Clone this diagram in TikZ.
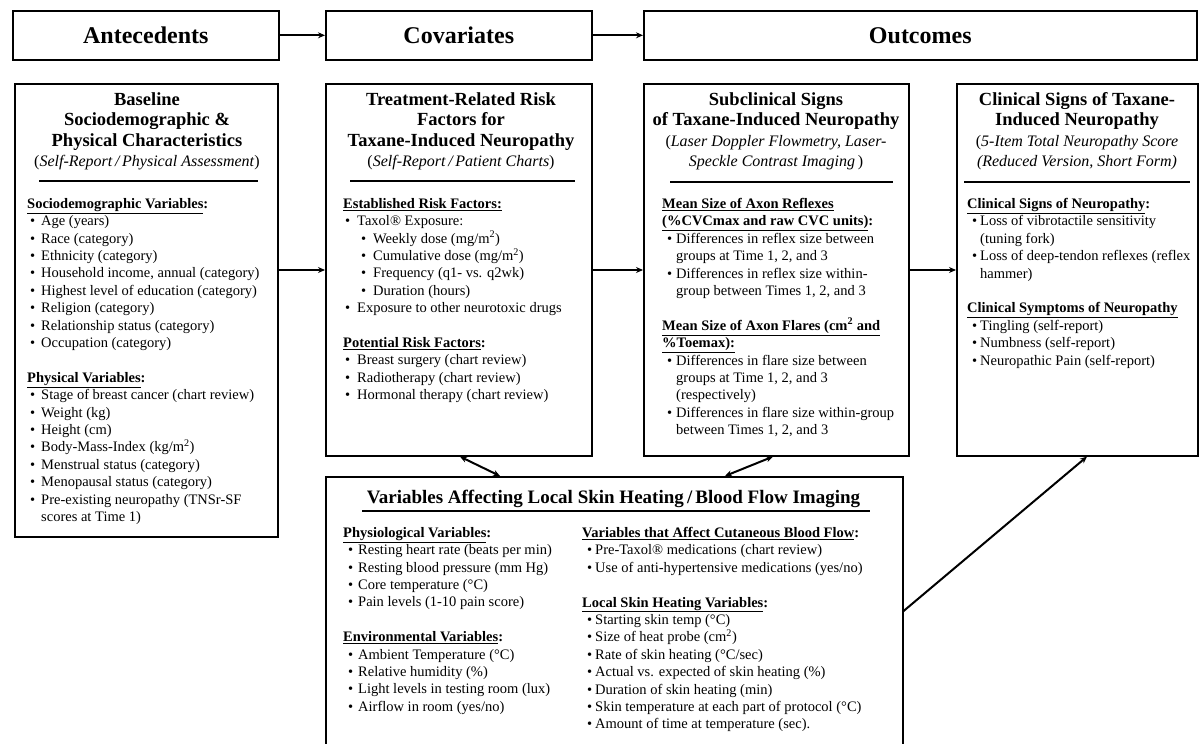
\documentclass[tikz,border=0pt]{standalone}
\usepackage{fontspec}
\setmainfont{Liberation Serif}
\usetikzlibrary{arrows.meta,calc}
\newlength\Lbulind
\newlength\Lbulgap
\newcommand{\Lbi}{\hspace*{\Lbulind}\makebox[\Lbulgap][l]{\textbullet}}
\newcommand{\Lbii}{\hspace*{\dimexpr\Lbulind+16pt\relax}\makebox[\Lbulgap][l]{\textbullet}}
\newcommand{\Lbc}{\hspace*{\dimexpr\Lbulind+\Lbulgap\relax}}
\newcommand{\Lhd}[1]{\textbf{\underline{#1}}}
\newcommand{\Lsq}{\textsuperscript{2}}
\tikzset{
  hbox/.style={draw, line width=1.6pt, anchor=north west, inner sep=0pt, font=\fontsize{24}{28}\selectfont\bfseries},
  cbox/.style={draw, line width=1.6pt, anchor=north west, inner sep=0pt},
  ttl/.style={align=center, anchor=north, inner sep=0pt, font=\fontsize{18.5}{20.5}\selectfont\bfseries},
  subt/.style={align=center, anchor=north, inner sep=0pt, font=\fontsize{16}{20}\selectfont},
  lst/.style 2 args={align=left, anchor=north west, inner sep=0pt, font=\fontsize{14.5}{17.4}\selectfont,
     execute at begin node={\setlength\Lbulind{#1}\setlength\Lbulgap{#2}}},
  rl/.style={line width=1.4pt},
  arr/.style={line width=2pt, -{Stealth[length=7pt,width=6pt]}},
  darr/.style={line width=2pt, {Stealth[length=7pt,width=6pt]}-{Stealth[length=7pt,width=6pt]}},
}
\begin{document}
\begin{tikzpicture}[x=1pt,y=-1pt]
\useasboundingbox (0,0) rectangle (1203,744);
\fill[white] (0,0) rectangle (1203,744);
\clip (0,0) rectangle (1203,744);

% header boxes
\node[hbox, minimum width=266pt, minimum height=49pt] (hA) at (12,10) {Antecedents};
\node[hbox, minimum width=266pt, minimum height=49pt] (hC) at (325,10) {Covariates};
\node[hbox, minimum width=553pt, minimum height=49pt] (hO) at (643,10) {Outcomes};

% content boxes
\node[cbox, minimum width=263pt, minimum height=453pt] (bB) at (14,83) {};
\node[cbox, minimum width=266pt, minimum height=372pt] (bT) at (325,83) {};
\node[cbox, minimum width=265pt, minimum height=372pt] (bS) at (643,83) {};
\node[cbox, minimum width=241pt, minimum height=372pt] (bK) at (956,83) {};
\node[cbox, minimum width=577pt, minimum height=320pt] (bV) at (325,476) {};

% box 1
\node[ttl] (tB) at (147,92) {Baseline\\Sociodemographic \&\\Physical Characteristics};
\node[subt] (sB) at (147,155) {(\textit{Self-Report\,/\,Physical Assessment})};
\draw[rl] (39,181) -- (258,181);
\node[lst={3pt}{11pt}] (lB) at (27,198) {%
\Lhd{Sociodemographic Variables}\textbf{:}\\
\Lbi Age (years)\\
\Lbi Race (category)\\
\Lbi Ethnicity (category)\\
\Lbi Household income, annual (category)\\
\Lbi Highest level of education (category)\\
\Lbi Religion (category)\\
\Lbi Relationship status (category)\\
\Lbi Occupation (category)\\[17.4pt]
\Lhd{Physical Variables}\textbf{:}\\
\Lbi Stage of breast cancer (chart review)\\
\Lbi Weight (kg)\\
\Lbi Height (cm)\\
\Lbi Body-Mass-Index (kg/m\Lsq)\\
\Lbi Menstrual status (category)\\
\Lbi Menopausal status (category)\\
\Lbi Pre-existing neuropathy (TNSr-SF\\
\Lbc scores at Time 1)};

% box 2
\node[ttl] (tT) at (461,92) {Treatment-Related Risk\\Factors for\\Taxane-Induced Neuropathy};
\node[subt] (sT) at (461,155) {(\textit{Self-Report\,/\,Patient Charts})};
\draw[rl] (350,181) -- (575,181);
\node[lst={2pt}{12pt}] (lT) at (343,198) {%
\Lhd{Established Risk Factors:}\\
\Lbi Taxol® Exposure:\\
\Lbii Weekly dose (mg/m\Lsq)\\
\Lbii Cumulative dose (mg/m\Lsq)\\
\Lbii Frequency (q1- vs. q2wk)\\
\Lbii Duration (hours)\\
\Lbi Exposure to other neurotoxic drugs\\[17.4pt]
\Lhd{Potential Risk Factors}\textbf{:}\\
\Lbi Breast surgery (chart review)\\
\Lbi Radiotherapy (chart review)\\
\Lbi Hormonal therapy (chart review)};

% box 3
\node[ttl] (tS) at (776,92) {Subclinical Signs\\of Taxane-Induced Neuropathy};
\node[subt] (sS) at (776,135) {(\textit{Laser Doppler Flowmetry, Laser-}\\\textit{Speckle Contrast Imaging\,})};
\draw[rl] (670,182) -- (893,182);
\node[lst={5pt}{9pt}] (lS) at (662,198) {%
\Lhd{Mean Size of Axon Reflexes}\\
\Lhd{(\%CVCmax and raw CVC units)}\textbf{:}\\
\Lbi Differences in reflex size between\\
\Lbc groups at Time 1, 2, and 3\\
\Lbi Differences in reflex size within-\\
\Lbc group between Times 1, 2, and 3\\[17.4pt]
\Lhd{Mean Size of Axon Flares (cm\Lsq{} and}\\
\Lhd{\%Toemax):}\\
\Lbi Differences in flare size between\\
\Lbc groups at Time 1, 2, and 3\\
\Lbc (respectively)\\
\Lbi Differences in flare size within-group\\
\Lbc between Times 1, 2, and 3};

% box 4
\node[ttl] (tK) at (1077,92) {Clinical Signs of Taxane-\\Induced Neuropathy};
\node[subt] (sK) at (1077,135) {(\textit{5-Item Total Neuropathy Score}\\\textit{(Reduced Version, Short Form)}};
\draw[rl] (964,182) -- (1190,182);
\node[lst={5pt}{8pt}] (lK) at (967,198) {%
\Lhd{Clinical Signs of Neuropathy}\textbf{:}\\
\Lbi Loss of vibrotactile sensitivity\\
\Lbc (tuning fork)\\
\Lbi Loss of deep-tendon reflexes (reflex\\
\Lbc hammer)\\[17.4pt]
\Lhd{Clinical Symptoms of Neuropathy}\\
\Lbi Tingling (self-report)\\
\Lbi Numbness (self-report)\\
\Lbi Neuropathic Pain (self-report)};

% bottom box
\node[ttl, font=\fontsize{19}{22}\selectfont\bfseries] (tV) at (613.5,490) {Variables Affecting Local Skin Heating\,/\,Blood Flow Imaging};
\draw[rl] (362,511) -- (870,511);
\node[lst={5pt}{10pt}] (lV1) at (343,527) {%
\Lhd{Physiological Variables}\textbf{:}\\
\Lbi Resting heart rate (beats per min)\\
\Lbi Resting blood pressure (mm Hg)\\
\Lbi Core temperature (°C)\\
\Lbi Pain levels (1-10 pain score)\\[17.4pt]
\Lhd{Environmental Variables}\textbf{:}\\
\Lbi Ambient Temperature (°C)\\
\Lbi Relative humidity (\%)\\
\Lbi Light levels in testing room (lux)\\
\Lbi Airflow in room (yes/no)};
\node[lst={5pt}{8pt}] (lV2) at (582,527) {%
\Lhd{Variables that Affect Cutaneous Blood Flow}\textbf{:}\\
\Lbi Pre-Taxol® medications (chart review)\\
\Lbi Use of anti-hypertensive medications (yes/no)\\[17.4pt]
\Lhd{Local Skin Heating Variables}\textbf{:}\\
\Lbi Starting skin temp (°C)\\
\Lbi Size of heat probe (cm\Lsq)\\
\Lbi Rate of skin heating (°C/sec)\\
\Lbi Actual vs. expected of skin heating (\%)\\
\Lbi Duration of skin heating (min)\\
\Lbi Skin temperature at each part of protocol (°C)\\
\Lbi Amount of time at temperature (sec).};

% connectors
\draw[arr] (hA.east) -- (hC.west);
\draw[arr] (hC.east) -- (hO.west);
\draw[arr] (bB.east |- 0,270) -- (bT.west |- 0,270);
\draw[arr] (bT.east |- 0,270) -- (bS.west |- 0,270);
\draw[arr] (bS.east |- 0,270) -- (bK.west |- 0,270);
\draw[darr] (bT.south -| 460,0) -- (bV.north -| 500,0);
\draw[darr] (bV.north -| 725,0) -- (bS.south -| 773,0);
\draw[arr] (bV.east |- 0,611) -- (bK.south -| 1087,0);
\end{tikzpicture}
\end{document}
